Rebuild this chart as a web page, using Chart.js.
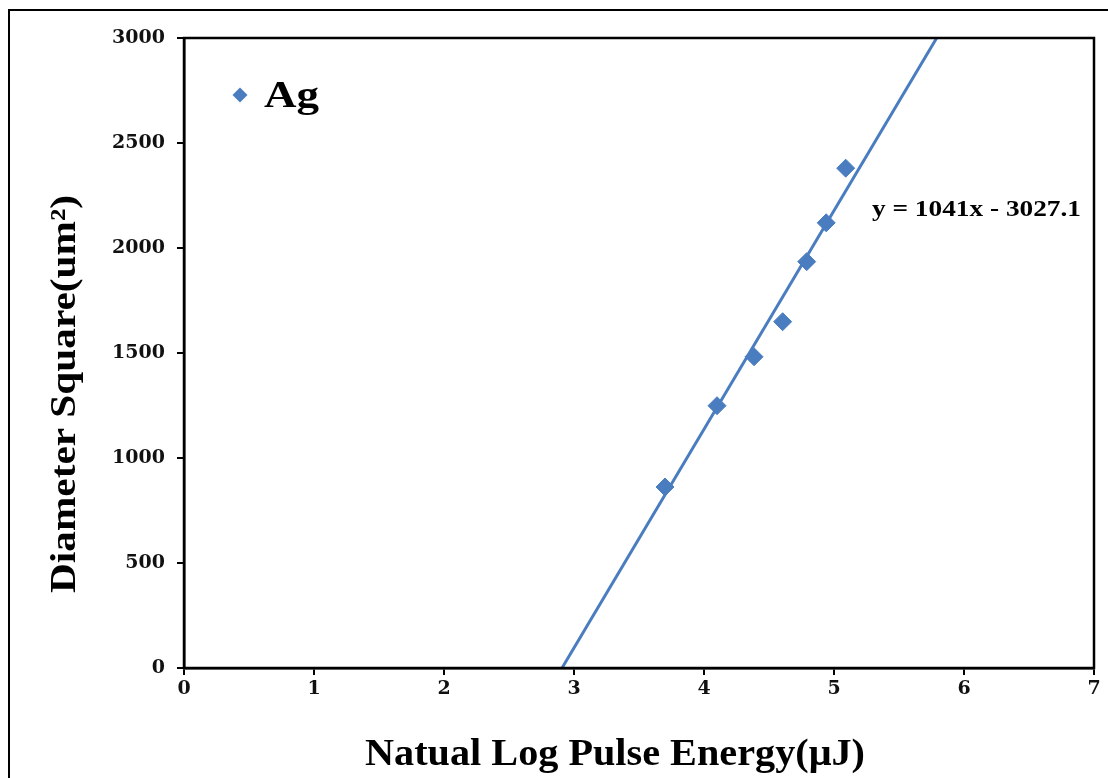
<!DOCTYPE html>
<html>
<head>
<meta charset="utf-8">
<script src="https://cdn.jsdelivr.net/npm/chart.js@4"></script>
<style>
    html, body { margin: 0; padding: 0; background: #fff; }
    #wrap { width: 1108px; height: 778px; position: relative; }
</style>
</head>
<body>
<div id="wrap"><canvas id="chart" width="1108" height="778"></canvas></div>
<script>
// Data
const seriesName = 'Ag';
const lnEnergy = [3.70, 4.10, 4.385, 4.605, 4.79, 4.94, 5.09];
const diamSq = [862, 1249, 1482, 1649, 1935, 2120, 2380];

// Excel trendline shown on the chart
const slope = 1041;
const intercept = -3027.1;
const equationText = 'y = 1041x - 3027.1';

const xTicks = [0, 1, 2, 3, 4, 5, 6, 7];
const yTicks = [0, 500, 1000, 1500, 2000, 2500, 3000];
const xTitle = 'Natual Log Pulse Energy(\u03bcJ)';
const yTitle = 'Diameter Square(um\u00b2)';

const blue = '#4a7dc0';
const serif = "'Liberation Serif', 'Times New Roman', serif";

// trendline end points from the fitted equation, clipped to the y range
const yMin = yTicks[0], yMax = yTicks[yTicks.length - 1];
const trend = [
    { x: (yMin - intercept) / slope, y: yMin },
    { x: (yMax - intercept) / slope, y: yMax }
];

// draws text fitted to a given width
function fitText(ctx, text, font, width) {
    ctx.font = font;
    const w = ctx.measureText(text).width;
    ctx.save();
    ctx.scale(width / w, 1);
    ctx.fillText(text, 0, 0);
    ctx.restore();
}

const decorations = {
    id: 'decorations',
    afterDraw(chart) {
        const ctx = chart.ctx;
        const a = chart.chartArea;
        ctx.save();

        // outer chart frame (left and top edges visible)
        ctx.strokeStyle = '#000';
        ctx.lineWidth = 2;
        ctx.beginPath();
        ctx.moveTo(9, 778);
        ctx.lineTo(9, 10);
        ctx.lineTo(1108, 10);
        ctx.stroke();

        // plot box
        ctx.lineWidth = 2.5;
        ctx.strokeRect(a.left, a.top, a.right - a.left, a.bottom - a.top);

        ctx.fillStyle = '#000';
        ctx.textAlign = 'center';
        ctx.textBaseline = 'alphabetic';

        // x axis title
        ctx.save();
        ctx.translate(615, 765);
        fitText(ctx, xTitle, 'bold 38px ' + serif, 500);
        ctx.restore();

        // y axis title
        ctx.save();
        ctx.translate(75, 394);
        ctx.rotate(-Math.PI / 2);
        fitText(ctx, yTitle, 'bold 35px ' + serif, 398);
        ctx.restore();

        // trendline equation
        ctx.textAlign = 'left';
        ctx.save();
        ctx.translate(872, 216);
        fitText(ctx, equationText, 'bold 23px ' + serif, 209);
        ctx.restore();

        // legend
        const ds = chart.data.datasets[0];
        ctx.fillStyle = ds.backgroundColor;
        ctx.beginPath();
        ctx.moveTo(240, 87.5);
        ctx.lineTo(247.5, 95);
        ctx.lineTo(240, 102.5);
        ctx.lineTo(232.5, 95);
        ctx.closePath();
        ctx.fill();
        ctx.fillStyle = '#000';
        ctx.save();
        ctx.translate(264, 107);
        fitText(ctx, ds.label, 'bold 37px ' + serif, 55);
        ctx.restore();

        ctx.restore();
    }
};

const tickFont = { family: "'DejaVu Serif', serif", size: 19, weight: 'bold' };

new Chart(document.getElementById('chart'), {
    type: 'scatter',
    data: {
        datasets: [
            {
                label: seriesName,
                data: lnEnergy.map((x, i) => ({ x: x, y: diamSq[i] })),
                backgroundColor: blue,
                borderColor: blue,
                pointStyle: 'rectRot',
                pointRadius: 9,
                pointHoverRadius: 9,
                order: 0
            },
            {
                label: 'Linear (' + seriesName + ')',
                type: 'line',
                data: trend,
                borderColor: blue,
                borderWidth: 3,
                pointRadius: 0,
                fill: false,
                order: 1
            }
        ]
    },
    options: {
        responsive: false,
        animation: false,
        layout: { padding: { left: 0, top: 38, right: 14, bottom: 0 } },
        plugins: {
            legend: { display: false },
            tooltip: { enabled: false }
        },
        scales: {
            x: {
                type: 'linear',
                min: xTicks[0],
                max: xTicks[xTicks.length - 1],
                afterBuildTicks: s => { s.ticks = xTicks.map(v => ({ value: v })); },
                afterFit: s => { s.height = 110; },
                grid: { drawOnChartArea: false, drawTicks: true, tickLength: 7, color: '#000', lineWidth: 2 },
                border: { display: true, color: '#000', width: 2.5 },
                ticks: { color: '#111', font: tickFont, padding: 3, maxRotation: 0, callback: v => String(v) }
            },
            y: {
                type: 'linear',
                min: yMin,
                max: yMax,
                afterBuildTicks: s => { s.ticks = yTicks.map(v => ({ value: v })); },
                afterFit: s => { s.width = 184; },
                grid: { drawOnChartArea: false, drawTicks: true, tickLength: 7, color: '#000', lineWidth: 2 },
                border: { display: true, color: '#000', width: 2.5 },
                ticks: { color: '#111', font: tickFont, padding: 12, callback: v => String(v) }
            }
        }
    },
    plugins: [decorations]
});
</script>
</body>
</html>
